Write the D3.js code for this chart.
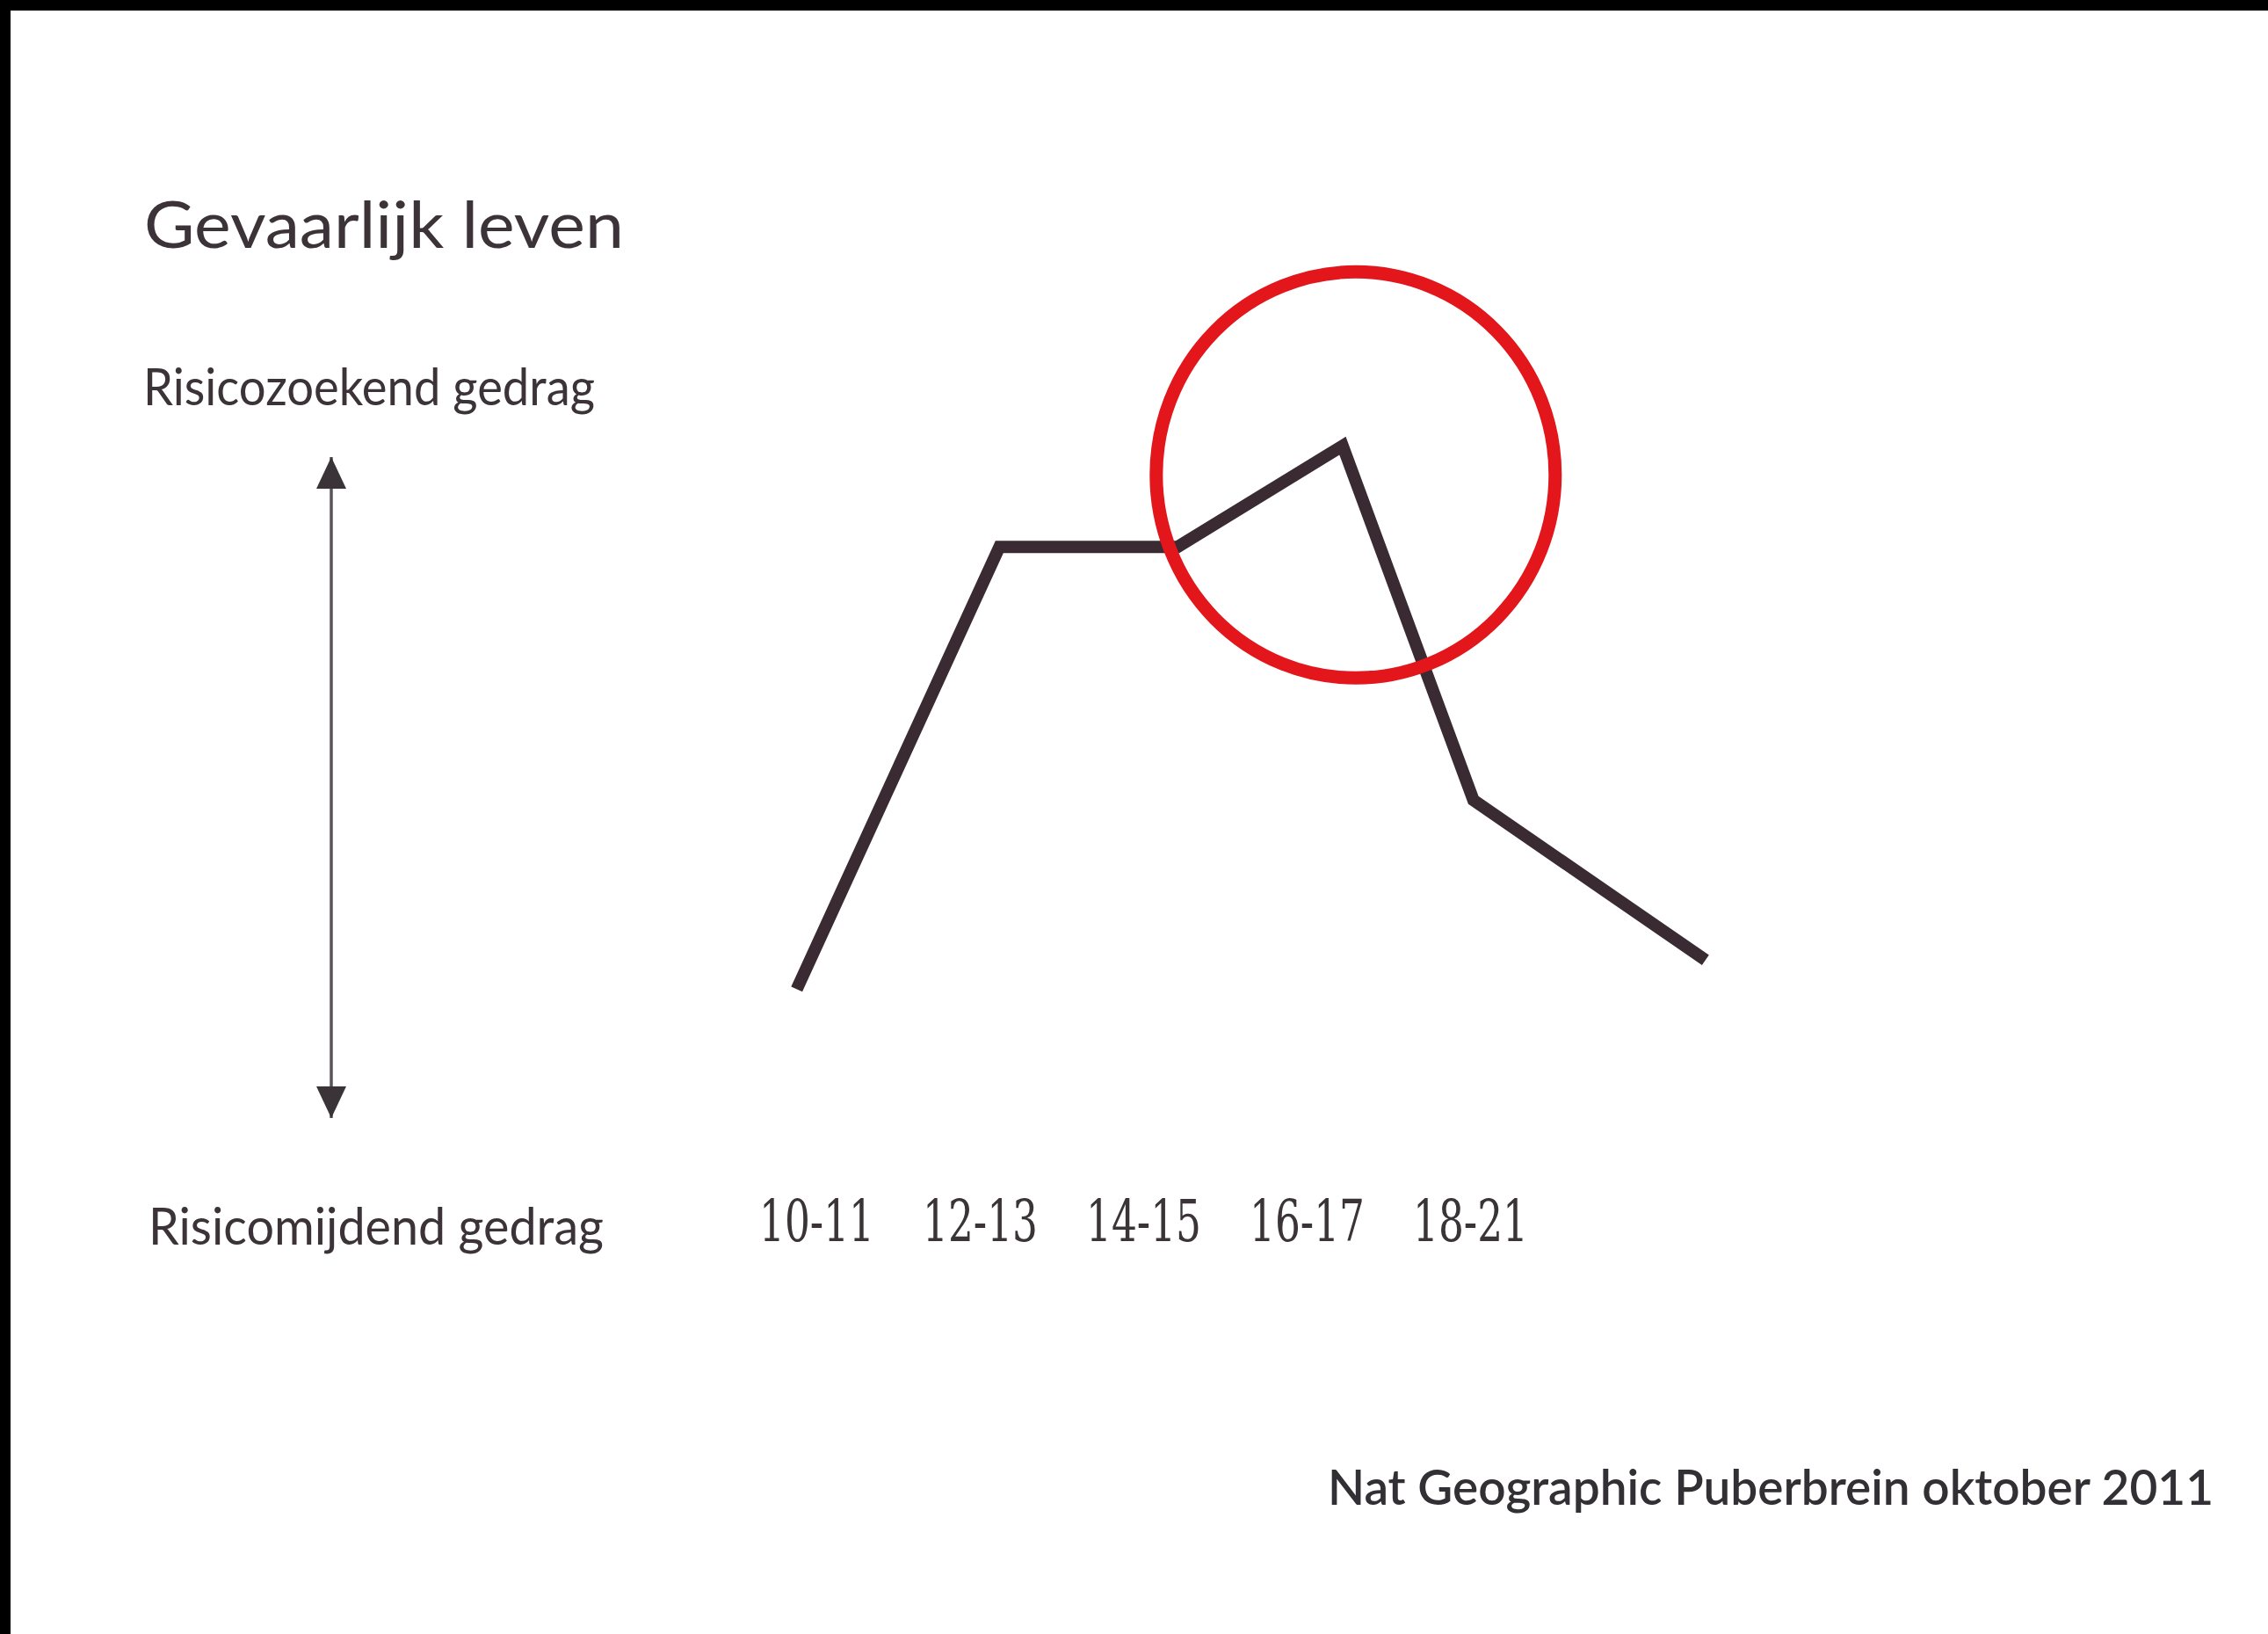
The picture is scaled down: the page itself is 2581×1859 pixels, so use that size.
<!DOCTYPE html>
<html>
<head>
<meta charset="utf-8">
<script src="https://cdn.jsdelivr.net/npm/d3@7"></script>
<style>
  html, body { margin: 0; padding: 0; background: #fff; }
  svg { display: block; }
</style>
</head>
<body>
<script>
// Age groups shown under the line (one tick per group)
const ageGroups = ['10-11', '12-13', '14-15', '16-17', '18-21'];

// Line vertices: position along the age axis (in age-group steps) and risk level (0 = avoiding, 10 = seeking)
const lineX = [-0.12, 1.12, 2.21, 3.22, 4.02, 5.44];
const lineY = [1.95, 8.64, 8.64, 10.17, 4.81, 2.39];

// Red highlight circle around the peak, in the same units
const highlightX = [3.3];
const highlightY = [9.73];

const width = 2581, height = 1859;

const svg = d3.select('body').append('svg')
    .attr('width', width)
    .attr('height', height);

svg.append('rect').attr('width', width).attr('height', height).attr('fill', '#fff');

// scanned page edges
svg.append('rect').attr('x', 0).attr('y', 0).attr('width', width).attr('height', 12).attr('fill', '#000');
svg.append('rect').attr('x', 0).attr('y', 0).attr('width', 12).attr('height', height).attr('fill', '#000');

// scales
const x = d3.scaleLinear().domain([0, 4]).range([929, 1673]);
const y = d3.scaleLinear().domain([0, 10]).range([1272, 520]);

const textColor = '#3b3338';
const font = "Lato, 'Open Sans', sans-serif";

// title
svg.append('text')
    .attr('x', 164).attr('y', 282)
    .attr('font-family', font).attr('font-size', 74)
    .attr('textLength', 546).attr('lengthAdjust', 'spacingAndGlyphs')
    .attr('fill', textColor)
    .text('Gevaarlijk leven');

// y-axis end labels
svg.append('text')
    .attr('x', 163).attr('y', 461)
    .attr('font-family', font).attr('font-size', 58)
    .attr('textLength', 514).attr('lengthAdjust', 'spacingAndGlyphs')
    .attr('fill', textColor)
    .text('Risicozoekend gedrag');

svg.append('text')
    .attr('x', 169).attr('y', 1416)
    .attr('font-family', font).attr('font-size', 58)
    .attr('textLength', 518).attr('lengthAdjust', 'spacingAndGlyphs')
    .attr('fill', textColor)
    .text('Risicomijdend gedrag');

// double-headed arrow as the y axis
const defs = svg.append('defs');
['up', 'down'].forEach(dir => {
    defs.append('marker')
        .attr('id', 'head-' + dir)
        .attr('markerUnits', 'userSpaceOnUse')
        .attr('viewBox', '0 0 34 36')
        .attr('markerWidth', 34).attr('markerHeight', 36)
        .attr('refX', 17).attr('refY', dir === 'up' ? 0 : 36)
        .attr('orient', 0)
        .append('path')
        .attr('d', dir === 'up' ? 'M17,0 L34,36 L0,36 Z' : 'M0,0 L34,0 L17,36 Z')
        .attr('fill', '#3a3438');
});

svg.append('line')
    .attr('x1', 377).attr('x2', 377)
    .attr('y1', y(10)).attr('y2', y(0))
    .attr('stroke', '#5a5458').attr('stroke-width', 3.5)
    .attr('marker-start', 'url(#head-up)')
    .attr('marker-end', 'url(#head-down)');

// x axis: age group labels only
const xAxis = d3.axisBottom(x)
    .tickValues(d3.range(ageGroups.length))
    .tickFormat(i => ageGroups[i])
    .tickSize(0)
    .tickPadding(0);

const gx = svg.append('g')
    .attr('transform', 'translate(0,1365)')
    .call(xAxis);
gx.select('.domain').remove();
gx.selectAll('text')
    .attr('font-family', "'DejaVu Serif', serif")
    .attr('font-size', 66)
    .attr('fill', '#3a3337')
    .attr('textLength', 131)
    .attr('lengthAdjust', 'spacingAndGlyphs');

// the risk line
const points = lineX.map((d, i) => [d, lineY[i]]);
const line = d3.line()
    .x(d => x(d[0]))
    .y(d => y(d[1]));

svg.append('path')
    .datum(points)
    .attr('d', line)
    .attr('fill', 'none')
    .attr('stroke', '#3a2b32')
    .attr('stroke-width', 14)
    .attr('stroke-linejoin', 'miter');

// red circle highlighting the peak
svg.selectAll('ellipse.highlight')
    .data(highlightX.map((d, i) => [d, highlightY[i]]))
    .join('ellipse')
    .attr('class', 'highlight')
    .attr('cx', d => x(d[0]))
    .attr('cy', d => y(d[1]))
    .attr('rx', 227).attr('ry', 231)
    .attr('fill', 'none')
    .attr('stroke', '#e3161b')
    .attr('stroke-width', 15);

// source note
svg.append('text')
    .attr('x', 1511).attr('y', 1712)
    .attr('font-family', font).attr('font-size', 55).attr('font-weight', 600)
    .attr('textLength', 1008).attr('lengthAdjust', 'spacingAndGlyphs')
    .attr('fill', '#333035')
    .text('Nat Geographic Puberbrein oktober 2011');
</script>
</body>
</html>
